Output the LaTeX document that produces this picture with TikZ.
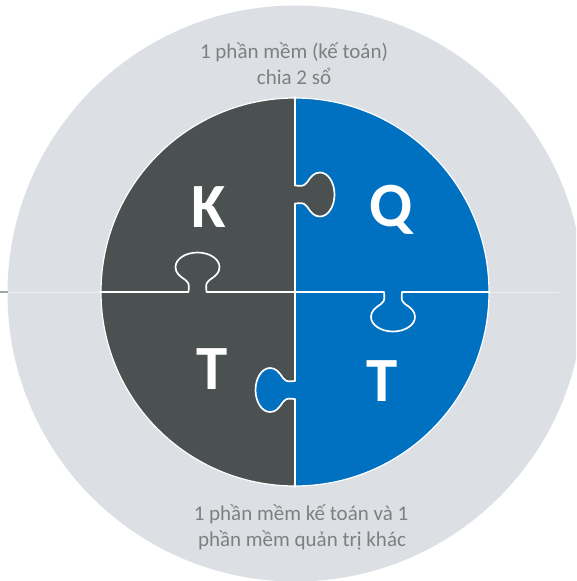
\documentclass[tikz,border=0pt]{standalone}
\usepackage{fontspec}
\setmainfont{Carlito}
\definecolor{bgc}{HTML}{DCE0E4}
\definecolor{darkp}{HTML}{4B5051}
\definecolor{bluep}{HTML}{0070C0}
\definecolor{txtc}{HTML}{7F7F7F}
\definecolor{faint}{HTML}{ECEEF0}
\tikzset{
  tabcurve/.style={insert path={
    .. controls ([#1]-9,5) and ([#1]-7,8) .. ([#1]-12,12)
    .. controls ([#1]-18,16) and ([#1]-22,19) .. ([#1]-22,25)
    .. controls ([#1]-22,33) and ([#1]-12,39.5) .. ([#1]0,39.5)
    .. controls ([#1]12,39.5) and ([#1]22,33) .. ([#1]22,25)
    .. controls ([#1]22,19) and ([#1]18,16) .. ([#1]12,12)
    .. controls ([#1]7,8) and ([#1]9,5) .. ([#1]9,0)
  }},
  tA/.style={shift={(295,194.5)},rotate=90},
  tB/.style={shift={(197.5,292)},rotate=180},
  tC/.style={shift={(393,292)},rotate=0},
  tD/.style={shift={(295,390)},rotate=-90},
  wline/.style={draw=white,line width=1.7pt,line cap=round,line join=round},
  caption/.style={text=txtc,font=\fontsize{21}{26}\selectfont,anchor=base,inner sep=0pt},
  letter/.style={text=white,font=\fontsize{63}{63}\selectfont\bfseries,anchor=base,inner sep=0pt}
}
\begin{document}
\begin{tikzpicture}[x=1pt,y=-1pt]
\useasboundingbox (0,0) rectangle (576,581);
\fill[white] (0,0) rectangle (576,581);
\clip (0,0) rectangle (576,581);
% outer light circle
\fill[bgc] (295.5,293.5) circle (288pt);
% faint horizontal line
\draw[faint,line width=0.9pt] (7.5,292) -- (559,292);
\draw[black!35,line width=1.6pt] (0,292) -- (7.5,292);
% quadrants
\begin{scope}
  \clip (295,292) circle (194pt);
  \fill[darkp] (90,90) rectangle (295,292);
  \fill[bluep] (295,90) rectangle (500,292);
  \fill[darkp] (90,292) rectangle (295,495);
  \fill[bluep] (295,292) rectangle (500,495);
\end{scope}
% filled tabs
\fill[darkp] ([tA]-9,-2) -- ([tA]-9,0) [tabcurve=tA] -- ([tA]9,-2) -- cycle;
\fill[bluep] ([tD]-9,-2) -- ([tD]-9,0) [tabcurve=tD] -- ([tD]9,-2) -- cycle;
% white boundaries
\draw[wline] (295,97) -- (295,185.5)
  ([tA]-9,0) [tabcurve=tA]
  (295,203.5) -- (295,381)
  ([tD]-9,0) [tabcurve=tD]
  (295,399) -- (295,487);
\draw[wline] (100,292) -- (188.5,292)
  ([tB]-9,0) [tabcurve=tB]
  (206.5,292) -- (384,292)
  ([tC]-9,0) [tabcurve=tC]
  (402,292) -- (490,292);
\draw[white,line width=1.2pt] (295,292) circle (194pt);
% letters
\node[letter] (k) at (209,227) {K};
\node[letter] (q) at (391,226) {Q};
\node[letter] (tl) at (212.5,389) {T};
\node[letter] (tr) at (382,401) {T};
% captions
\node[caption] (c1) at (294,58.5) {1 phần mềm (kế toán)};
\node[caption] (c2) at (294,84.5) {chia 2 sổ};
\node[caption] (c3) at (301,520) {1 phần mềm kế toán và 1};
\node[caption] (c4) at (302,546) {phần mềm quản trị khác};
\end{tikzpicture}
\end{document}
